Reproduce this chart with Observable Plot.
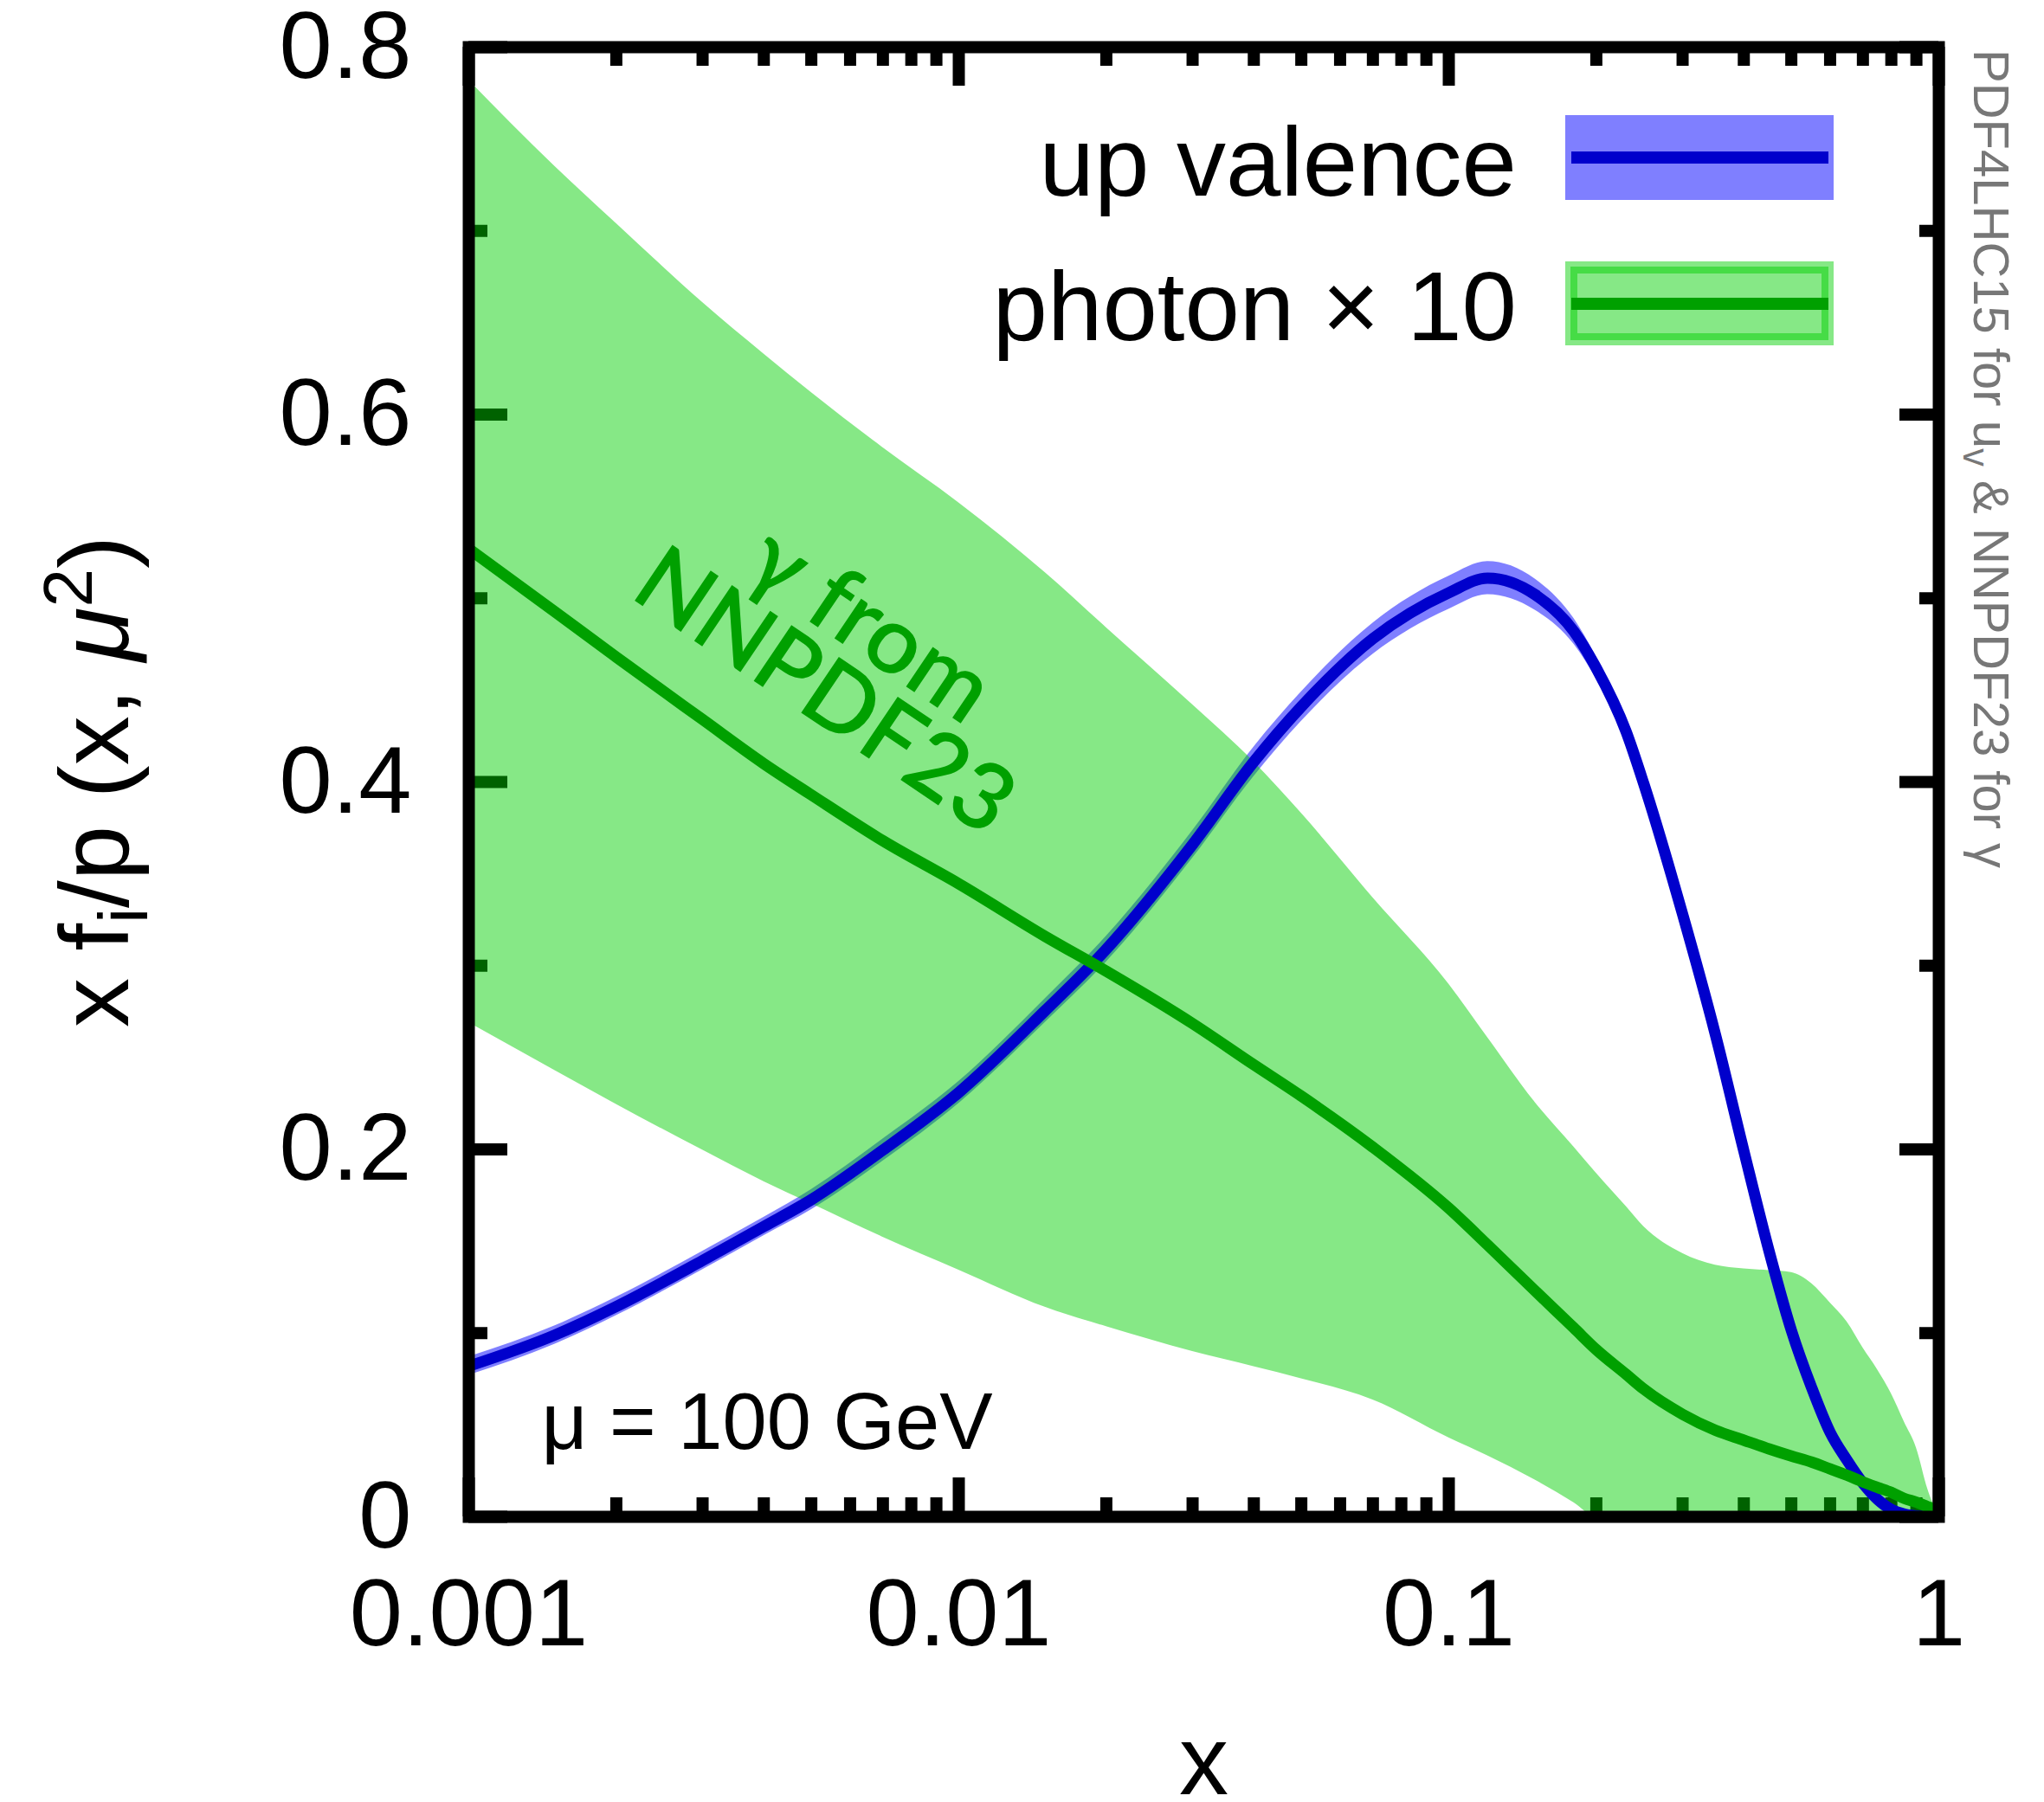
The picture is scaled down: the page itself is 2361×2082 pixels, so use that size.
<!DOCTYPE html>
<html>
<head>
<meta charset="utf-8">
<script src="https://cdn.jsdelivr.net/npm/d3@7"></script>
<script src="https://cdn.jsdelivr.net/npm/@observablehq/plot@0.6"></script>
<style>
  html, body { margin: 0; padding: 0; background: #fff; }
  svg { display: block; }
</style>
</head>
<body>
<script>
// ---------------- data ----------------
const xs = [0.001, 0.0015, 0.002, 0.003, 0.004, 0.005, 0.007, 0.01, 0.015, 0.02,
            0.03, 0.04, 0.05, 0.07, 0.1, 0.12, 0.15, 0.18, 0.2, 0.23,
            0.25, 0.3, 0.35, 0.4, 0.45, 0.5, 0.55, 0.6, 0.65, 0.7,
            0.75, 0.8, 0.85, 0.9, 0.95, 1.0];

const uvCentral = [0.082, 0.099, 0.1145, 0.1395, 0.158, 0.1726, 0.1996, 0.231, 0.2755, 0.309,
                   0.366, 0.411, 0.441, 0.478, 0.503, 0.511, 0.502, 0.482, 0.462, 0.4275,
                   0.399, 0.328, 0.2625, 0.1992, 0.145, 0.1016, 0.0704, 0.046, 0.0307, 0.0183,
                   0.0095, 0.004, 0.0015, 0.0005, 0, 0];

const uvErr = [0.005, 0.005, 0.005, 0.005, 0.005, 0.0055, 0.006, 0.006, 0.0065, 0.007,
               0.0075, 0.008, 0.008, 0.0085, 0.009, 0.009, 0.0085, 0.007, 0.006, 0.005,
               0.004, 0.003, 0.003, 0.0025, 0.002, 0.002, 0.0015, 0.0015, 0.001, 0.001,
               0.001, 0.001, 0.0005, 0.0005, 0, 0];

const photonCentral = [0.527, 0.4926, 0.468, 0.434, 0.410, 0.393, 0.368, 0.3446, 0.316, 0.297,
                       0.2685, 0.2461, 0.229, 0.2012, 0.168, 0.148, 0.123, 0.1028, 0.091, 0.0776,
                       0.0695, 0.0558, 0.0471, 0.0417, 0.037, 0.0331, 0.0298, 0.0261, 0.0226, 0.019,
                       0.016, 0.0133, 0.010, 0.008, 0.0055, 0.004];

const photonHigh = [0.782, 0.735, 0.704, 0.661, 0.633, 0.612, 0.582, 0.552, 0.514, 0.484,
                    0.442, 0.411, 0.383, 0.337, 0.290, 0.2609, 0.2256, 0.2013, 0.187, 0.169,
                    0.158, 0.1434, 0.137, 0.135, 0.134, 0.133, 0.127, 0.1165, 0.106, 0.092,
                    0.080, 0.067, 0.0517, 0.0375, 0.0148, 0];

const photonLow = [0.269, 0.2429, 0.2245, 0.1996, 0.1825, 0.1704, 0.1522, 0.1343, 0.1141, 0.1035,
                   0.090, 0.0818, 0.0752, 0.0636, 0.043, 0.0332, 0.020, 0.0077, 0, 0,
                   0, 0, 0, 0, 0, 0, 0, 0, 0, 0,
                   0, 0, 0, 0, 0, 0];

const xMajorTicks = [0.001, 0.01, 0.1, 1];
const xTickLabels = ["0.001", "0.01", "0.1", "1"];
const xMinorTicks = [0.002, 0.003, 0.004, 0.005, 0.006, 0.007, 0.008, 0.009,
                     0.02, 0.03, 0.04, 0.05, 0.06, 0.07, 0.08, 0.09,
                     0.2, 0.3, 0.4, 0.5, 0.6, 0.7, 0.8, 0.9];
const yMajorTicks = [0, 0.2, 0.4, 0.6, 0.8];
const yTickLabels = ["0", "0.2", "0.4", "0.6", "0.8"];
const yMinorTicks = [0.1, 0.3, 0.5, 0.7];

const seriesNames = ["up valence", "photon × 10"];
const xTitle = "x";
const scaleNote = "μ = 100 GeV";
const annotation = "γ from\nNNPDF23";
const sideNote = ["PDF4LHC15 for u", "v", " & NNPDF23 for γ"];

// ---------------- layout ----------------
const FONT = "'Liberation Sans', Arial, Helvetica, sans-serif";
const W = 2361, H = 2082;
const mL = 541, mR = 122, mT = 54, mB = 330;
const fW = W - mL - mR, fH = H - mT - mB;
const major = 45, minor = 22, tickW = 14;

const rows = xs.map((x, i) => ({
  x,
  uv: uvCentral[i],
  uvLo: Math.max(0, uvCentral[i] - uvErr[i]),
  uvHi: uvCentral[i] + uvErr[i],
  ph: photonCentral[i],
  phLo: photonLow[i],
  phHi: photonHigh[i]
}));

const tk = {stroke: "black", strokeWidth: tickW};
const GREEN_FILL = "rgb(0,207,0)";

const chart = Plot.plot({
  width: W, height: H,
  marginLeft: mL, marginRight: mR, marginTop: mT, marginBottom: mB,
  style: {fontFamily: FONT, fontSize: "110px", background: "white", color: "black", overflow: "visible"},
  x: {type: "log", domain: [0.001, 1], label: null},
  y: {domain: [0, 0.8], label: null},
  marks: [
    // inward ticks on all four sides (under the bands, like the original)
    Plot.ruleX(xMajorTicks, {x: d => d, insetTop: fH - major, ...tk}),
    Plot.ruleX(xMajorTicks, {x: d => d, insetBottom: fH - major, ...tk}),
    Plot.ruleX(xMinorTicks, {x: d => d, insetTop: fH - minor, ...tk}),
    Plot.ruleX(xMinorTicks, {x: d => d, insetBottom: fH - minor, ...tk}),
    Plot.ruleY(yMajorTicks, {y: d => d, insetRight: fW - major, ...tk}),
    Plot.ruleY(yMajorTicks, {y: d => d, insetLeft: fW - major, ...tk}),
    Plot.ruleY(yMinorTicks, {y: d => d, insetRight: fW - minor, ...tk}),
    Plot.ruleY(yMinorTicks, {y: d => d, insetLeft: fW - minor, ...tk}),
    // bands
    Plot.areaY(rows, {x: "x", y1: "uvLo", y2: "uvHi", fill: "#0000ff", fillOpacity: 0.5, curve: "monotone-x"}),
    Plot.areaY(rows, {x: "x", y1: "phLo", y2: "phHi", fill: GREEN_FILL, fillOpacity: 0.475, curve: "monotone-x"}),
    // central lines
    Plot.line(rows, {x: "x", y: "uv", stroke: "#0000cc", strokeWidth: 13, curve: "monotone-x"}),
    Plot.line(rows, {x: "x", y: "ph", stroke: "#00a000", strokeWidth: 13, curve: "monotone-x"}),
    // annotations
    Plot.text([annotation], {text: d => d, frameAnchor: "top-left", dx: 434, dy: 711, rotate: 34,
      fontSize: 108, fontWeight: 600, fontFamily: "Lato, 'Noto Sans', sans-serif", fill: "#00a000",
      lineHeight: 0.86, textAnchor: "middle", lineAnchor: "middle"}),
    Plot.text([scaleNote], {text: d => d, frameAnchor: "bottom-left", dx: 84, dy: -79,
      lineAnchor: "bottom", textAnchor: "start", fontSize: 92, fill: "black"}),
    // axes
    Plot.axisX({anchor: "bottom", ticks: xMajorTicks, tickSize: 0, tickPadding: 70,
      tickFormat: d => xTickLabels[xMajorTicks.indexOf(d)], fontSize: 110, label: null}),
    Plot.axisY({anchor: "left", ticks: yMajorTicks, tickSize: 0, tickPadding: 66,
      tickFormat: d => yTickLabels[yMajorTicks.indexOf(d)], fontSize: 110, label: null}),
    Plot.text([xTitle], {text: d => d, frameAnchor: "bottom", dy: 320, lineAnchor: "bottom", fontSize: 114}),
    // frame on top
    Plot.frame({stroke: "black", strokeWidth: tickW})
  ]
});

document.body.appendChild(chart);

const svg = d3.select(chart);

// y-axis title with sub/superscripts
const yt = svg.append("text")
  .attr("transform", `translate(148,${mT + fH / 2}) rotate(-90)`)
  .attr("text-anchor", "middle")
  .attr("font-family", FONT)
  .attr("font-size", 114)
  .attr("fill", "black");
yt.append("tspan").text("x f");
yt.append("tspan").attr("font-size", 80).attr("dy", 22).text("i");
yt.append("tspan").attr("dy", -22).text("/p (x, ");
yt.append("tspan").attr("font-style", "italic").text("μ");
yt.append("tspan").attr("font-size", 80).attr("dy", -42).text("2");
yt.append("tspan").attr("dy", 42).text(")");

// side note (rotated, grey, reading top to bottom)
const sn = svg.append("text")
  .attr("transform", `translate(${mL + fW + 41},${mT + 3}) rotate(90)`)
  .attr("text-anchor", "start")
  .attr("font-family", FONT)
  .attr("font-size", 58)
  .attr("fill", "#777777");
sn.append("tspan").text(sideNote[0]);
sn.append("tspan").attr("font-size", 42).attr("dy", 12).text(sideNote[1]);
sn.append("tspan").attr("dy", -12).text(sideNote[2]);

// legend
const lg = svg.append("g");
const bx = 1808, bw = 310;
lg.append("rect").attr("x", bx).attr("y", 133).attr("width", bw).attr("height", 98)
  .attr("fill", "#0000ff").attr("fill-opacity", 0.5);
lg.append("line").attr("x1", bx + 7).attr("x2", bx + bw - 6).attr("y1", 182).attr("y2", 182)
  .attr("stroke", "#0000cc").attr("stroke-width", 14);
lg.append("rect").attr("x", bx).attr("y", 302).attr("width", bw).attr("height", 97)
  .attr("fill", GREEN_FILL).attr("fill-opacity", 0.475);
lg.append("rect").attr("x", bx + 10).attr("y", 312).attr("width", bw - 20).attr("height", 77)
  .attr("fill", "none").attr("stroke", GREEN_FILL).attr("stroke-opacity", 0.475).attr("stroke-width", 8);
lg.append("line").attr("x1", bx + 7).attr("x2", bx + bw - 6).attr("y1", 351).attr("y2", 351)
  .attr("stroke", "#00a000").attr("stroke-width", 14);
lg.append("text").attr("x", 1752).attr("y", 226).attr("text-anchor", "end")
  .attr("font-family", FONT).attr("font-size", 114).attr("fill", "black").text(seriesNames[0]);
lg.append("text").attr("x", 1752).attr("y", 393).attr("text-anchor", "end")
  .attr("font-family", FONT).attr("font-size", 114).attr("fill", "black").text(seriesNames[1]);
</script>
</body>
</html>
